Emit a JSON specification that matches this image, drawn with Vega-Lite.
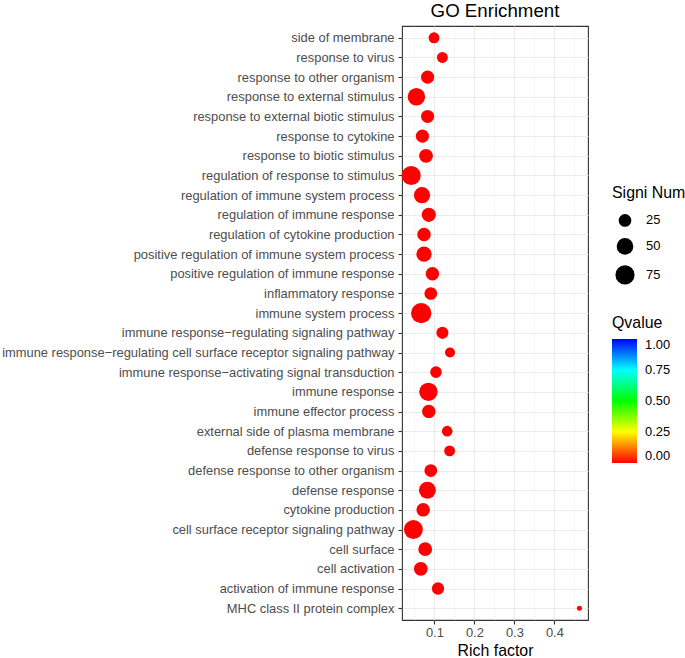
{
  "$schema": "https://vega.github.io/schema/vega-lite/v6.json",
  "width": 186,
  "height": 594,
  "padding": {"left": 1, "top": 2, "right": 0, "bottom": 0},
  "background": "white",
  "title": {"text": "GO Enrichment", "fontSize": 18.7, "font": "Liberation Sans", "fontWeight": "normal", "color": "#000000", "anchor": "middle", "offset": 5},
  "config": {
    "font": "Liberation Sans",
    "view": {"stroke": "#333333", "strokeWidth": 1.1},
    "axis": {"domain": false}
  },
  "data": {
    "values": [
      {"term": "side of membrane", "rich": 0.099, "signi": 17, "q": 0.001},
      {"term": "response to virus", "rich": 0.120, "signi": 17, "q": 0.001},
      {"term": "response to other organism", "rich": 0.083, "signi": 27, "q": 0.0001},
      {"term": "response to external stimulus", "rich": 0.055, "signi": 58, "q": 0.0001},
      {"term": "response to external biotic stimulus", "rich": 0.083, "signi": 27, "q": 0.0001},
      {"term": "response to cytokine", "rich": 0.070, "signi": 27, "q": 0.0001},
      {"term": "response to biotic stimulus", "rich": 0.079, "signi": 31, "q": 0.0001},
      {"term": "regulation of response to stimulus", "rich": 0.042, "signi": 74, "q": 0.001},
      {"term": "regulation of immune system process", "rich": 0.069, "signi": 47, "q": 0.0001},
      {"term": "regulation of immune response", "rich": 0.086, "signi": 33, "q": 0.0001},
      {"term": "regulation of cytokine production", "rich": 0.074, "signi": 29, "q": 0.0001},
      {"term": "positive regulation of immune system process", "rich": 0.074, "signi": 40, "q": 0.0001},
      {"term": "positive regulation of immune response", "rich": 0.095, "signi": 29, "q": 0.0001},
      {"term": "inflammatory response", "rich": 0.091, "signi": 25, "q": 0.0001},
      {"term": "immune system process", "rich": 0.067, "signi": 88, "q": 0.0001},
      {"term": "immune response−regulating signaling pathway", "rich": 0.120, "signi": 22, "q": 0.0001},
      {"term": "immune response−regulating cell surface receptor signaling pathway", "rich": 0.139, "signi": 14, "q": 0.0001},
      {"term": "immune response−activating signal transduction", "rich": 0.104, "signi": 20, "q": 0.0001},
      {"term": "immune response", "rich": 0.085, "signi": 67, "q": 0.0001},
      {"term": "immune effector process", "rich": 0.086, "signi": 29, "q": 0.0001},
      {"term": "external side of plasma membrane", "rich": 0.132, "signi": 16, "q": 0.0001},
      {"term": "defense response to virus", "rich": 0.138, "signi": 17, "q": 0.0001},
      {"term": "defense response to other organism", "rich": 0.091, "signi": 25, "q": 0.0001},
      {"term": "defense response", "rich": 0.0825, "signi": 53, "q": 0.0001},
      {"term": "cytokine production", "rich": 0.072, "signi": 29, "q": 0.0001},
      {"term": "cell surface receptor signaling pathway", "rich": 0.0475, "signi": 71, "q": 0.0001},
      {"term": "cell surface", "rich": 0.077, "signi": 31, "q": 0.001},
      {"term": "cell activation", "rich": 0.066, "signi": 31, "q": 0.001},
      {"term": "activation of immune response", "rich": 0.109, "signi": 23, "q": 0.0001},
      {"term": "MHC class II protein complex", "rich": 0.4625, "signi": 4, "q": 0.002}
    ]
  },
  "mark": {"type": "point", "filled": true, "opacity": 1, "strokeWidth": 0},
  "encoding": {
    "x": {
      "field": "rich",
      "type": "quantitative",
      "title": "Rich factor",
      "scale": {"domain": [0.019, 0.484], "nice": false, "zero": false},
      "axis": {
        "values": [0.05, 0.1, 0.15, 0.2, 0.25, 0.3, 0.35, 0.4, 0.45],
        "labelExpr": "abs(datum.value*10 - round(datum.value*10)) < 0.001 ? format(datum.value, '.1f') : ''",
        "tickOpacity": {"condition": {"test": "abs(datum.value*10 - round(datum.value*10)) < 0.001", "value": 1}, "value": 0},
        "gridWidth": {"condition": {"test": "abs(datum.value*10 - round(datum.value*10)) < 0.001", "value": 1.1}, "value": 0.55},
        "grid": true,
        "gridColor": "#EBEBEB",
        "tickColor": "#333333",
        "tickSize": 4,
        "tickWidth": 1.1,
        "labelColor": "#4D4D4D",
        "labelFontSize": 12.9,
        "labelPadding": 2,
        "labelFont": "Liberation Sans",
        "titleFont": "Liberation Sans",
        "titleFontSize": 15.9,
        "titleFontWeight": "normal",
        "titleColor": "#000000",
        "titlePadding": 4,
        "labelFlush": false
      }
    },
    "y": {
      "field": "term",
      "type": "nominal",
      "title": null,
      "sort": [
        "side of membrane",
        "response to virus",
        "response to other organism",
        "response to external stimulus",
        "response to external biotic stimulus",
        "response to cytokine",
        "response to biotic stimulus",
        "regulation of response to stimulus",
        "regulation of immune system process",
        "regulation of immune response",
        "regulation of cytokine production",
        "positive regulation of immune system process",
        "positive regulation of immune response",
        "inflammatory response",
        "immune system process",
        "immune response−regulating signaling pathway",
        "immune response−regulating cell surface receptor signaling pathway",
        "immune response−activating signal transduction",
        "immune response",
        "immune effector process",
        "external side of plasma membrane",
        "defense response to virus",
        "defense response to other organism",
        "defense response",
        "cytokine production",
        "cell surface receptor signaling pathway",
        "cell surface",
        "cell activation",
        "activation of immune response",
        "MHC class II protein complex"
      ],
      "scale": {"padding": 0.6},
      "axis": {
        "grid": true,
        "gridColor": "#EBEBEB",
        "gridWidth": 1.1,
        "tickColor": "#333333",
        "tickSize": 4,
        "tickWidth": 1.1,
        "labelColor": "#4D4D4D",
        "labelFontSize": 12.9,
        "labelFont": "Liberation Sans",
        "labelPadding": 4,
        "labelLimit": 600
      }
    },
    "size": {
      "field": "signi",
      "type": "quantitative",
      "title": "Signi Num",
      "scale": {"type": "pow", "exponent": 0.65, "domain": [4, 88], "range": [25, 412], "zero": false},
      "legend": {
        "orient": "none",
        "legendX": 210,
        "legendY": 159,
        "values": [25, 50, 75],
        "symbolType": "circle",
        "symbolFillColor": "#000000",
        "symbolStrokeColor": "#000000",
        "symbolStrokeWidth": 0,
        "symbolOpacity": 1,
        "symbolOffset": 3,
        "labelOffset": 11,
        "labelFontSize": 12.9,
        "labelColor": "#000000",
        "labelFont": "Liberation Sans",
        "titleFont": "Liberation Sans",
        "titleFontSize": 15.9,
        "titleFontWeight": "normal",
        "titleColor": "#000000",
        "titlePadding": 13,
        "rowPadding": 10,
        "padding": 0
      }
    },
    "color": {
      "field": "q",
      "type": "quantitative",
      "title": "Qvalue",
      "scale": {
        "domain": [0, 0.25, 0.5, 0.75, 1],
        "range": ["#FF0000", "#FFFF00", "#00FF00", "#00FFFF", "#0000FF"],
        "interpolate": "rgb"
      },
      "legend": {
        "orient": "none",
        "legendX": 210,
        "legendY": 289,
        "direction": "vertical",
        "gradientLength": 124,
        "gradientThickness": 25,
        "gradientStrokeWidth": 0,
        "values": [0, 0.25, 0.5, 0.75, 1],
        "format": ".2f",
        "labelOverlap": false,
        "labelOffset": 8,
        "labelFontSize": 12.9,
        "labelColor": "#000000",
        "labelFont": "Liberation Sans",
        "titleFont": "Liberation Sans",
        "titleFontSize": 15.9,
        "titleFontWeight": "normal",
        "titleColor": "#000000",
        "titlePadding": 8,
        "padding": 0
      }
    }
  }
}
